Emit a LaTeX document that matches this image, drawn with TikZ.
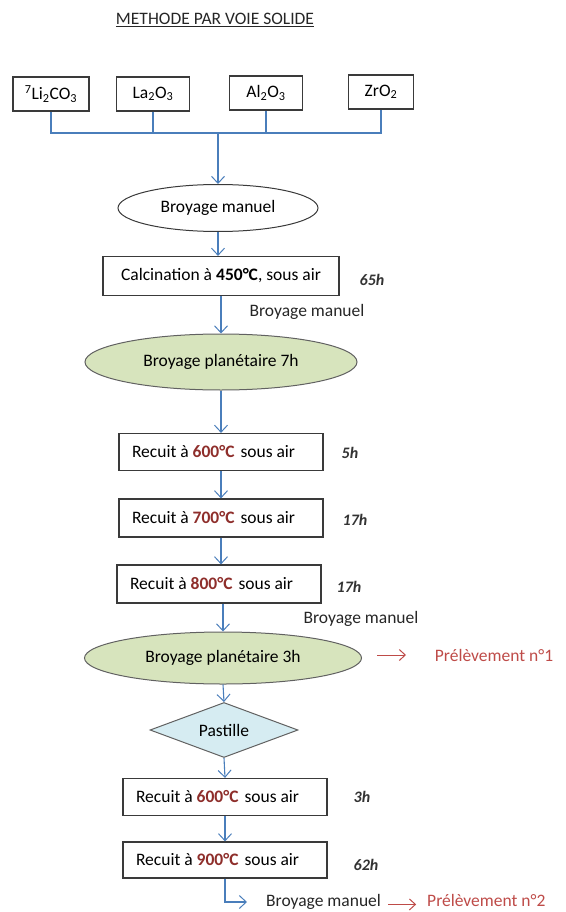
\documentclass[tikz,border=0pt]{standalone}
\usepackage{fontspec}
\setmainfont{Carlito}
\usetikzlibrary{arrows.meta,shapes.geometric,calc}
\definecolor{conn}{HTML}{4A7EBB}
\definecolor{greenfill}{HTML}{D7E4BD}
\definecolor{bluefill}{HTML}{D6ECF2}
\definecolor{temp}{HTML}{8E2E2B}
\definecolor{prel}{HTML}{BE4B48}
\definecolor{edge}{HTML}{3A3A3A}
\tikzset{
  every node/.style={font=\fontsize{17.5}{20}\selectfont, inner sep=0pt},
  chem/.style={draw=edge, line width=1.3pt, minimum height=34pt},
  stepbox/.style={draw=edge, line width=1.2pt, minimum height=37pt, inner xsep=13pt},
  calcbox/.style={draw=edge, line width=1.2pt},
  oval/.style={ellipse, draw=edge, line width=1pt},
  greenoval/.style={ellipse, draw=edge!80, line width=1pt, fill=greenfill},
  diam/.style={diamond, draw=edge!80, line width=1pt, fill=bluefill, aspect=2.7},
  hrs/.style={font=\fontsize{16}{18}\selectfont\bfseries\itshape, text=black!80},
  lbl/.style={text=black!85},
  conn/.style={draw=conn, line width=1.1pt},
  carr/.style={conn, -{Straight Barb[length=7pt,width=13pt,line width=1pt]}},
  rarr/.style={draw=prel, line width=1pt, -{Straight Barb[length=6pt,width=11pt,line width=1pt]}},
}
\newcommand{\tC}[1]{\textcolor{temp}{\textbf{#1°C}}}
\newcommand{\sub}[1]{\textsubscript{#1}}
\newcommand{\rec}[1]{\makebox[178pt][l]{Recuit à \tC{#1}\hspace{6pt}sous air}}
\begin{document}
\begin{tikzpicture}[x=1pt,y=-1pt]
\useasboundingbox (0,0) rectangle (565,912);
% title
\node[lbl] (title) at (215,20) {\underline{METHODE PAR VOIE SOLIDE}};
% reagents
\node[chem, minimum width=76pt] (li) at (51,94) {\textsuperscript{7}Li\sub{2}CO\sub{3}};
\node[chem, minimum width=73pt] (la) at (153,94) {La\sub{2}O\sub{3}};
\node[chem, minimum width=73pt] (al) at (266,93) {Al\sub{2}O\sub{3}};
\node[chem, minimum width=65pt] (zr) at (381,92) {ZrO\sub{2}};
\coordinate (jl) at (51,133);
\coordinate (jr) at (381,133);
\coordinate (jc) at (218,133);
\draw[conn] (li.south) -- (jl) -- (jr) -- (zr.south);
\draw[conn] (la.south) -- (la.south |- jc);
\draw[conn] (al.south) -- (al.south |- jc);
% chain
\node[oval, minimum width=200pt, minimum height=47pt] (bm1) at (218,208) {Broyage manuel};
\draw[carr] (jc) -- (bm1.north);
\node[calcbox, minimum width=236pt, minimum height=39pt] (calc) at (221,276) {Calcination à \textbf{450°C}, sous air};
\node[hrs] (h65) at (372,280) {65h};
\draw[carr] (bm1.south) -- (calc.north -| bm1.south);
\node[lbl] (bm2) at (307,312) {Broyage manuel};
\node[greenoval, minimum width=272pt, minimum height=56pt] (bp7) at (221,362) {Broyage planétaire 7h};
\draw[carr] (calc.south) -- (bp7.north);
\node[stepbox] (r600) at (221,452) {\rec{600}};
\node[hrs] (h5) at (350,453) {5h};
\draw[carr] (bp7.south) -- (r600.north);
\node[stepbox, minimum height=38pt] (r700) at (221,518) {\rec{700}};
\node[hrs] (h17a) at (355,520) {17h};
\draw[carr] (r600.south) -- (r700.north);
\node[stepbox, minimum height=38pt] (r800) at (219,584) {\rec{800}};
\node[hrs] (h17b) at (349,587) {17h};
\draw[carr] (r700.south) -- (r800.north -| r700.south);
\node[lbl] (bm3) at (361,619) {Broyage manuel};
\node[greenoval, minimum width=277pt, minimum height=52pt] (bp3) at (223,658) {Broyage planétaire 3h};
\draw[carr] (r800.south -| bp3.north) -- (bp3.north);
\node[text=prel] (p1) at (494,655) {Prélèvement n°1};
\coordinate (a1) at (377,655);
\draw[rarr] (a1) -- ++(29,0);
\node[diam, minimum width=148pt, minimum height=55pt] (pas) at (224,730) {Pastille};
\draw[carr] (bp3.south) -- (pas.north);
\node[stepbox] (r600b) at (225,797) {\rec{600}};
\node[hrs] (h3) at (362,797) {3h};
\draw[carr] (pas.south) -- (r600b.north);
\node[stepbox, minimum height=36pt] (r900) at (225,860) {\rec{900}};
\node[hrs] (h62) at (366,865) {62h};
\draw[carr] (r600b.south) -- (r900.north);
\node[lbl, anchor=base west] (bm4) at (266,906) {Broyage manuel};
\coordinate (e1) at (247,902);
\draw[carr] (r900.south) |- (e1);
\node[text=prel, anchor=base west] (p2) at (427,906) {Prélèvement n°2};
\draw[rarr] (bm4.east) ++(7,3) -- ++(28,0);
\end{tikzpicture}
\end{document}
